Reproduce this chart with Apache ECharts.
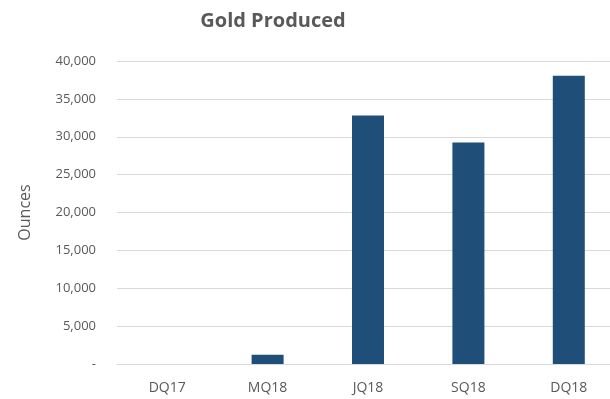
<!DOCTYPE html>
<html>
<head>
<meta charset="utf-8">
<script src="https://cdn.jsdelivr.net/npm/echarts@6/dist/echarts.min.js"></script>
<style>
  html, body { margin: 0; padding: 0; background: #fff; }
  #chart { width: 610px; height: 399px; }
</style>
</head>
<body>
<div id="chart"></div>
<script>
const quarters = ['DQ17', 'MQ18', 'JQ18', 'SQ18', 'DQ18'];
const ounces = [0, 1220, 32800, 29250, 38050];

const chart = echarts.init(document.getElementById('chart'));
const grey = '#595959';
const font = '"Open Sans", "Liberation Sans", sans-serif';

chart.setOption({
  animation: false,
  title: {
    text: 'Gold Produced',
    left: 268,
    top: 6,
    textAlign: 'center',
    textStyle: { color: grey, fontSize: 20, fontWeight: 'bold', fontFamily: font }
  },
  grid: { left: 117, top: 61, width: 502, height: 303, outerBoundsMode: 'none' },
  xAxis: {
    type: 'category',
    data: quarters,
    axisLine: { show: true, lineStyle: { color: '#d9d9d9', width: 1 } },
    axisTick: { show: false },
    axisLabel: { color: grey, fontSize: 14, fontFamily: font, margin: 17 }
  },
  yAxis: {
    type: 'value',
    min: 0,
    max: 40000,
    interval: 5000,
    name: 'Ounces',
    nameLocation: 'middle',
    nameGap: 84,
    nameTextStyle: { color: grey, fontSize: 16, fontFamily: font },
    axisLine: { show: false },
    axisTick: { show: false },
    splitLine: { lineStyle: { color: '#d9d9d9', width: 1 } },
    axisLabel: {
      color: grey, fontSize: 13, fontFamily: font, margin: 21,
      formatter: v => v === 0 ? '-' : v.toLocaleString('en-US')
    }
  },
  series: [{
    type: 'bar',
    data: ounces,
    barWidth: 32,
    itemStyle: { color: '#1f4e79' }
  }]
});
</script>
</body>
</html>
